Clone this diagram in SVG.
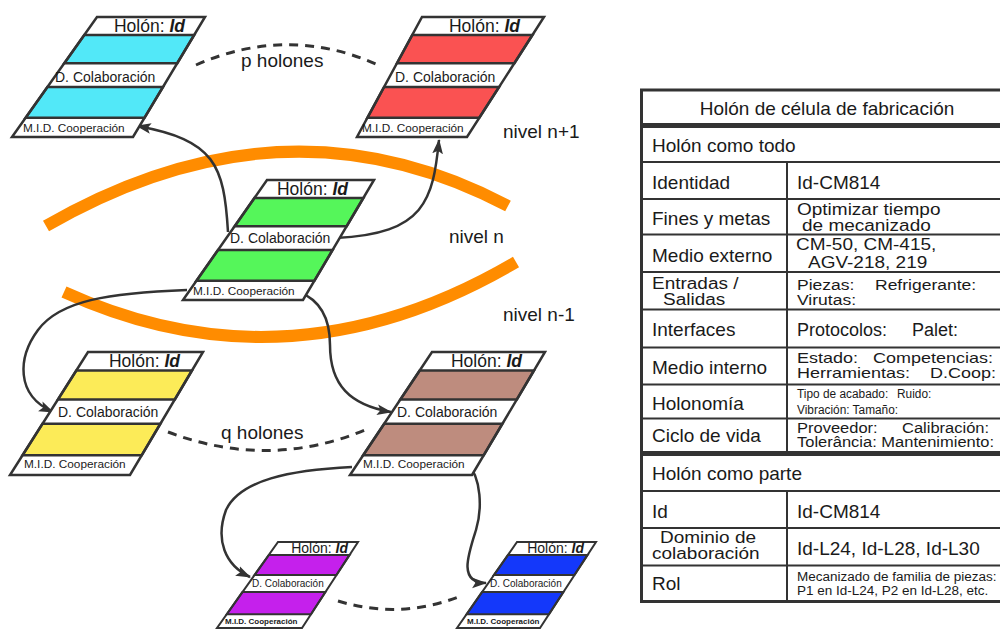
<svg xmlns="http://www.w3.org/2000/svg" width="1000" height="630" viewBox="0 0 1000 630">
<defs>
<style>
text{font-family:"Liberation Sans",Arial,sans-serif;fill:#1a1a1a}
.bg{fill:#fff;stroke:none}
.frame{fill:none;stroke:#333;stroke-width:2.5;stroke-linejoin:miter}
.band{stroke:#333;stroke-width:2.5}
.sm .frame,.sm .band{stroke-width:2}
.cyan{fill:#52E8F8}.red{fill:#FA5252}.green{fill:#55F65A}.yellow{fill:#FCEB58}.brown{fill:#BE8C7E}.purple{fill:#C520EC}.blue{fill:#1438FA}
.hb{font-size:17.5px}.db{font-size:14px}.mb{font-size:11.8px}
.hs{font-size:14px}.ds{font-size:10px}.ms{font-size:8px;font-weight:bold}
.id{font-weight:bold;font-style:italic}
.conn{fill:none;stroke:#333;stroke-width:2.5;marker-end:url(#ah)}
.dash{fill:none;stroke:#333;stroke-width:3;stroke-dasharray:9 7}
.orange{fill:none;stroke:#FF8C00;stroke-width:12}
.lbl{font-size:19px}
.tline{stroke:#333;stroke-width:2}
.tthick{stroke:#333;stroke-width:5}
.t19{font-size:19px}.t18{font-size:18px}.t17{font-size:17.5px}.t16{font-size:16.5px}.t14{font-size:13.5px}.t13{font-size:12.5px}
</style>
<marker id="ah" viewBox="0 0 14 10" refX="13" refY="5" markerWidth="15" markerHeight="11" markerUnits="userSpaceOnUse" orient="auto">
<path d="M0,0 L14,5 L0,10 L3,5 z" fill="#333"/>
</marker>
</defs>
<rect width="1000" height="630" fill="#fff"/>

<g id="levels">
<path class="orange" d="M46 226 Q285 88 508 206"/>
<path class="orange" d="M64 292 Q290 395 516 262"/>
</g>

<g id="connectors">
<path class="conn" d="M228 232 C224 165 215 140 137 126"/>
<path class="conn" d="M336 238 C425 234 433 200 439 140"/>
<path class="conn" d="M187 290 C110 293 60 300 38 330 C18 357 15 395 53 412"/>
<path class="conn" d="M299 292 C320 300 330 318 330 345 C330 385 350 405 391 412"/>
<path class="conn" d="M352 467 C290 470 240 480 226 510 C215 540 225 565 250 577"/>
<path class="conn" d="M467 463 C482 478 482 510 476 530 C468 555 458 583 486 583"/>
<path class="dash" d="M196 65 Q287 25 376 64"/>
<path class="dash" d="M168 432 Q268 470 365 430"/>
<path class="dash" d="M338 601 Q400 620 461 596"/>
</g>

<g id="holon-cyan">
<polygon class="bg" points="97,17 205,17 133,137 12,137"/>
<polygon class="band cyan" points="84.3,35 194.2,35 177.3,63.2 64.3,63.2"/>
<polygon class="band cyan" points="47.4,87 163,87 144.5,117.8 25.6,117.8"/>
<polygon class="frame" points="97,17 205,17 133,137 12,137"/>
<text class="hb" x="185" y="32" text-anchor="end">Holón: <tspan class="id">Id</tspan></text>
<text class="db" x="55" y="81.5">D. Colaboración</text>
<text class="mb" x="23" y="131.5">M.I.D. Cooperación</text>
</g>

<g id="holon-red">
<polygon class="bg" points="422,17 544,17 467,137 357,137"/>
<polygon class="band red" points="412.3,35 532.5,35 514.4,63.2 397,63.2"/>
<polygon class="band red" points="384.1,87 499.1,87 479.3,117.8 367.4,117.8"/>
<polygon class="frame" points="422,17 544,17 467,137 357,137"/>
<text class="hb" x="520" y="32" text-anchor="end">Holón: <tspan class="id">Id</tspan></text>
<text class="db" x="395" y="81.5">D. Colaboración</text>
<text class="mb" x="362" y="131.5">M.I.D. Cooperación</text>
</g>

<g id="holon-green">
<polygon class="bg" points="267,180 374,180 303,300 183,300"/>
<polygon class="band green" points="254.4,198 363.4,198 346.7,226.2 234.7,226.2"/>
<polygon class="band green" points="218,250 332.6,250 314.4,280.8 196.4,280.8"/>
<polygon class="frame" points="267,180 374,180 303,300 183,300"/>
<text class="hb" x="348" y="195" text-anchor="end">Holón: <tspan class="id">Id</tspan></text>
<text class="db" x="230" y="243">D. Colaboración</text>
<text class="mb" x="193" y="295">M.I.D. Cooperación</text>
</g>

<g id="holon-yellow">
<polygon class="bg" points="88,352 203,352 130,475 10,475"/>
<polygon class="band yellow" points="76.3,370.5 192,370.5 174.9,399.4 58,399.4"/>
<polygon class="band yellow" points="42.5,423.7 160.4,423.7 141.7,455.3 22.5,455.3"/>
<polygon class="frame" points="88,352 203,352 130,475 10,475"/>
<text class="hb" x="180" y="367" text-anchor="end">Holón: <tspan class="id">Id</tspan></text>
<text class="db" x="58" y="417">D. Colaboración</text>
<text class="mb" x="24" y="468">M.I.D. Cooperación</text>
</g>

<g id="holon-brown">
<polygon class="bg" points="432,352 545,352 472,475 350,475"/>
<polygon class="band brown" points="419.7,370.5 534,370.5 516.9,399.4 400.4,399.4"/>
<polygon class="band brown" points="384.2,423.7 502.4,423.7 483.7,455.3 363.1,455.3"/>
<polygon class="frame" points="432,352 545,352 472,475 350,475"/>
<text class="hb" x="522" y="367" text-anchor="end">Holón: <tspan class="id">Id</tspan></text>
<text class="db" x="397" y="417">D. Colaboración</text>
<text class="mb" x="363" y="468">M.I.D. Cooperación</text>
</g>

<g id="holon-purple" class="sm">
<polygon class="bg" points="278,542 358,542 302,628 217,628"/>
<polygon class="band purple" points="268.9,554.9 349.6,554.9 336.4,575.1 254.5,575.1"/>
<polygon class="band purple" points="242.4,592.1 325.4,592.1 311,614.2 226.8,614.2"/>
<polygon class="frame" points="278,542 358,542 302,628 217,628"/>
<text class="hs" x="348" y="552.5" text-anchor="end">Holón: <tspan class="id">Id</tspan></text>
<text class="ds" x="252" y="587">D. Colaboración</text>
<text class="ms" x="225" y="623.5">M.I.D. Cooperación</text>
</g>

<g id="holon-blue" class="sm">
<polygon class="bg" points="517,542 596,542 540,628 457,628"/>
<polygon class="band blue" points="508,554.9 587.6,554.9 574.4,575.1 493.9,575.1"/>
<polygon class="band blue" points="482,592.1 563.4,592.1 549,614.2 466.6,614.2"/>
<polygon class="frame" points="517,542 596,542 540,628 457,628"/>
<text class="hs" x="584" y="552.5" text-anchor="end">Holón: <tspan class="id">Id</tspan></text>
<text class="ds" x="490" y="587">D. Colaboración</text>
<text class="ms" x="467" y="623.5">M.I.D. Cooperación</text>
</g>

<g id="labels">
<text class="lbl" x="241" y="67">p holones</text>
<text class="lbl" x="503" y="138">nivel n+1</text>
<text class="lbl" x="449" y="243">nivel n</text>
<text class="lbl" x="503" y="321">nivel n-1</text>
<text class="lbl" x="221" y="439">q holones</text>
</g>

<g id="table">
<rect x="641.5" y="90" width="380" height="511.5" fill="#fff" stroke="#333" stroke-width="3"/>
<line class="tthick" x1="641" y1="125.5" x2="1000" y2="125.5"/>
<line class="tline" x1="641" y1="162" x2="1000" y2="162"/>
<line class="tline" x1="641" y1="199" x2="1000" y2="199"/>
<line class="tline" x1="641" y1="234.5" x2="1000" y2="234.5"/>
<line class="tline" x1="641" y1="272" x2="1000" y2="272"/>
<line class="tline" x1="641" y1="309.5" x2="1000" y2="309.5"/>
<line class="tline" x1="641" y1="347.5" x2="1000" y2="347.5"/>
<line class="tline" x1="641" y1="384.5" x2="1000" y2="384.5"/>
<line class="tline" x1="641" y1="418.5" x2="1000" y2="418.5"/>
<line class="tthick" x1="641" y1="453.5" x2="1000" y2="453.5"/>
<line class="tline" x1="641" y1="491" x2="1000" y2="491"/>
<line class="tline" x1="641" y1="528" x2="1000" y2="528"/>
<line class="tline" x1="641" y1="565.5" x2="1000" y2="565.5"/>
<line class="tline" x1="787" y1="162" x2="787" y2="452"/>
<line class="tline" x1="787" y1="491" x2="787" y2="601"/>

<text class="t19" x="827" y="115" text-anchor="middle">Holón de célula de fabricación</text>
<text class="t19" x="652" y="152">Holón como todo</text>
<text class="t19" x="652" y="189">Identidad</text>
<text class="t19" x="797" y="189">Id-CM814</text>
<text class="t19" x="652" y="225">Fines y metas</text>
<text class="t19" transform="translate(797 215) scale(1 0.82)">Optimizar tiempo</text>
<text class="t19" transform="translate(802 231) scale(1 0.82)">de mecanizado</text>
<text class="t19" x="652" y="262">Medio externo</text>
<text class="t19" transform="translate(796 250) scale(1 0.82)">CM-50, CM-415,</text>
<text class="t19" transform="translate(808 268) scale(1 0.82)">AGV-218, 219</text>
<text class="t19" transform="translate(652 289) scale(1 0.82)">Entradas /</text>
<text class="t19" transform="translate(663 305) scale(1 0.82)">Salidas</text>
<text class="t17" transform="translate(797 290) scale(1 0.85)">Piezas:</text>
<text class="t17" transform="translate(875 290) scale(1 0.85)">Refrigerante:</text>
<text class="t17" transform="translate(797 305) scale(1 0.85)">Virutas:</text>
<text class="t19" x="652" y="336">Interfaces</text>
<text class="t18" x="797" y="336">Protocolos:</text>
<text class="t18" x="912" y="336">Palet:</text>
<text class="t19" x="652" y="374">Medio interno</text>
<text class="t18" transform="translate(797 363) scale(1 0.82)">Estado:</text>
<text class="t18" transform="translate(873 363) scale(1 0.82)">Competencias:</text>
<text class="t18" transform="translate(797 378) scale(1 0.82)">Herramientas:</text>
<text class="t18" transform="translate(930 378) scale(1 0.82)">D.Coop:</text>
<text class="t19" x="652" y="410">Holonomía</text>
<text class="t13" transform="translate(797 397.5) scale(0.95 0.95)">Tipo de acabado:</text>
<text class="t13" transform="translate(897 397.5) scale(0.95 0.95)">Ruido:</text>
<text class="t13" transform="translate(797 413.5) scale(0.95 0.95)">Vibración: Tamaño:</text>
<text class="t19" x="652" y="442">Ciclo de vida</text>
<text class="t16" transform="translate(797 433) scale(1 0.9)">Proveedor:</text>
<text class="t16" transform="translate(902 433) scale(1 0.9)">Calibración:</text>
<text class="t16" transform="translate(797 447) scale(1 0.9)">Tolerância: Mantenimiento:</text>
<text class="t19" x="652" y="480">Holón como parte</text>
<text class="t19" x="652" y="518">Id</text>
<text class="t19" x="797" y="518">Id-CM814</text>
<text class="t19" transform="translate(660 543) scale(1 0.82)">Dominio de</text>
<text class="t19" transform="translate(652 559) scale(1 0.82)">colaboración</text>
<text class="t19" x="797" y="555">Id-L24, Id-L28, Id-L30</text>
<text class="t19" x="652" y="590">Rol</text>
<text class="t14" transform="translate(797 581) scale(1 0.95)">Mecanizado de familia de piezas:</text>
<text class="t14" transform="translate(797 595) scale(1 0.95)">P1 en Id-L24, P2 en Id-L28, etc.</text>
</g>
</svg>
